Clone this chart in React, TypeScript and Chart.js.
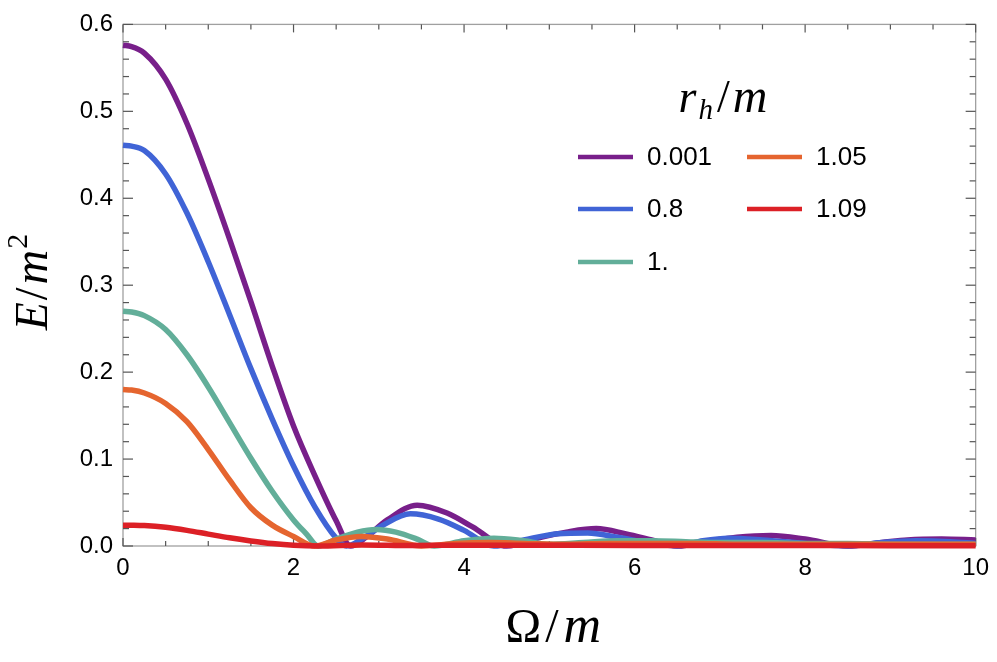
import React, { useEffect, useRef } from "react";
import { Chart, registerables } from "chart.js";
Chart.register(...registerables);

// r_h/m = 0.001
const purpleX = [0, 0.1, 0.25, 0.5, 0.75, 1.0, 1.25, 1.5, 1.75, 2.0, 2.25, 2.5, 2.67, 2.85, 3.1, 3.45, 3.8, 4.1, 4.5, 4.9, 5.2, 5.55, 5.9, 6.2, 6.5, 6.9, 7.2, 7.6, 8.0, 8.5, 8.9, 9.2, 9.6, 10];
const purpleY = [0.576, 0.5745, 0.567, 0.537, 0.486, 0.422, 0.353, 0.281, 0.207, 0.138, 0.081, 0.029, 0.0, 0.010, 0.030, 0.047, 0.038, 0.022, 0.0, 0.010, 0.016, 0.020, 0.014, 0.007, 0.0, 0.006, 0.010, 0.012, 0.008, 0.0, 0.004, 0.007, 0.008, 0.007];
// r_h/m = 0.8
const blueX = [0, 0.1, 0.25, 0.5, 0.75, 1.0, 1.25, 1.5, 1.75, 2.0, 2.25, 2.5, 2.62, 2.8, 3.05, 3.37, 3.7, 4.0, 4.35, 4.7, 5.1, 5.45, 5.8, 6.2, 6.5, 6.8, 7.1, 7.5, 8.0, 8.5, 8.9, 9.3, 9.7, 10];
const blueY = [0.461, 0.460, 0.455, 0.428, 0.383, 0.327, 0.266, 0.204, 0.146, 0.092, 0.045, 0.009, 0.0, 0.008, 0.024, 0.037, 0.031, 0.018, 0.0, 0.007, 0.014, 0.015, 0.010, 0.003, 0.0, 0.006, 0.009, 0.007, 0.003, 0.0, 0.004, 0.006, 0.005, 0.003];
// r_h/m = 1.
const greenX = [0, 0.1, 0.25, 0.5, 0.75, 1.0, 1.25, 1.5, 1.75, 2.0, 2.15, 2.29, 2.5, 2.75, 2.97, 3.2, 3.45, 3.65, 4.0, 4.35, 4.7, 5.0, 5.4, 5.8, 6.2, 6.6, 7.0, 7.5, 8.0, 8.5, 9.0, 9.5, 10];
const greenY = [0.270, 0.2692, 0.265, 0.249, 0.220, 0.183, 0.142, 0.101, 0.063, 0.030, 0.014, 0.0, 0.008, 0.016, 0.019, 0.016, 0.008, 0.0, 0.006, 0.009, 0.006, 0.002, 0.004, 0.006, 0.006, 0.005, 0.004, 0.004, 0.003, 0.003, 0.002, 0.002, 0.002];
// r_h/m = 1.05
const orangeX = [0, 0.1, 0.25, 0.5, 0.75, 1.0, 1.25, 1.5, 1.75, 2.0, 2.25, 2.5, 2.8, 3.1, 3.5, 3.9, 4.3, 4.7, 5.2, 5.7, 6.2, 6.7, 7.2, 7.7, 8.2, 8.7, 9.2, 9.7, 10];
const orangeY = [0.180, 0.1794, 0.176, 0.164, 0.143, 0.111, 0.076, 0.044, 0.024, 0.011, 0.0, 0.007, 0.011, 0.008, 0.0, 0.003, 0.004, 0.003, 0.002, 0.003, 0.003, 0.003, 0.002, 0.002, 0.002, 0.002, 0.002, 0.002, 0.002];
// r_h/m = 1.09
const redX = [0, 0.1, 0.25, 0.5, 0.75, 1.0, 1.25, 1.5, 1.75, 2.0, 2.3, 2.8, 3.4, 4, 5, 6, 7, 8, 9, 10];
const redY = [0.024, 0.0239, 0.0235, 0.0215, 0.018, 0.0137, 0.0094, 0.0058, 0.0028, 0.0008, 0.0, 0.0012, 0.0005, 0.001, 0.0008, 0.0006, 0.0005, 0.0005, 0.0004, 0.0004];

const seriesLabels = ["0.001", "0.8", "1.", "1.05", "1.09"];
const seriesColors = ["#781f8a", "#4064d6", "#62ae99", "#e5652f", "#dc2026"];
const seriesX = [purpleX, blueX, greenX, orangeX, redX];
const seriesY = [purpleY, blueY, greenY, orangeY, redY];

const X_MIN = 0, X_MAX = 10, X_STEP = 2, X_MINOR = 0.5;
const Y_MIN = 0, Y_MAX = 0.6, Y_STEP = 0.1, Y_MINOR = 0.02;

type Piece = { t: string; italic?: boolean; size: number; dy?: number; gap?: number };

function drawPieces(ctx: CanvasRenderingContext2D, pieces: Piece[], cx: number, baseline: number) {
  const fam = '"Liberation Serif", "DejaVu Serif", serif';
  const font = (p: Piece) => `${p.italic ? "italic " : ""}${p.size}px ${fam}`;
  let total = 0;
  const widths = pieces.map((p) => {
    ctx.font = font(p);
    const w = ctx.measureText(p.t).width + (p.gap || 0);
    total += w;
    return w;
  });
  let x = cx - total / 2;
  ctx.textBaseline = "alphabetic";
  ctx.textAlign = "left";
  pieces.forEach((p, i) => {
    ctx.font = font(p);
    ctx.fillText(p.t, x, baseline + (p.dy || 0));
    x += widths[i];
  });
}

const decorPlugin = {
  id: "decor",
  beforeDatasetsDraw(chart: any) {
    const { ctx, chartArea: a, scales } = chart;
    const xs = scales.x, ys = scales.y;
    ctx.save();
    ctx.strokeStyle = "#a0a0a0";
    ctx.lineWidth = 1.3;
    ctx.strokeRect(a.left, a.top, a.right - a.left, a.bottom - a.top);
    ctx.strokeStyle = "#555555";
    ctx.lineWidth = 1.2;
    const seg = (x1: number, y1: number, x2: number, y2: number) => {
      ctx.beginPath();
      ctx.moveTo(x1, y1);
      ctx.lineTo(x2, y2);
      ctx.stroke();
    };
    const nx = Math.round((X_MAX - X_MIN) / X_MINOR);
    const perX = Math.round(X_STEP / X_MINOR);
    for (let i = 0; i <= nx; i++) {
      const px = xs.getPixelForValue(X_MIN + i * X_MINOR);
      const L = i % perX === 0 ? 8 : 5;
      seg(px, a.bottom, px, a.bottom - L);
      seg(px, a.top, px, a.top + L);
    }
    const ny = Math.round((Y_MAX - Y_MIN) / Y_MINOR);
    const perY = Math.round(Y_STEP / Y_MINOR);
    for (let i = 0; i <= ny; i++) {
      const py = ys.getPixelForValue(Y_MIN + i * Y_MINOR);
      const L = i % perY === 0 ? 10 : 6;
      seg(a.left, py, a.left + L, py);
      seg(a.right, py, a.right - L, py);
    }
    ctx.restore();
  },
  afterDraw(chart: any) {
    const { ctx, chartArea: a } = chart;
    ctx.save();
    ctx.fillStyle = "#000";
    // x title
    drawPieces(ctx, [
      { t: "Ω", size: 48, gap: 4 },
      { t: "/", size: 48, gap: 5 },
      { t: "m", italic: true, size: 52 },
    ], (a.left + a.right) / 2 + 4, 642);
    // y title (rotated)
    ctx.save();
    ctx.translate(47, 282);
    ctx.rotate(-Math.PI / 2);
    drawPieces(ctx, [
      { t: "E", italic: true, size: 46, gap: 2 },
      { t: "/", size: 46, gap: 3 },
      { t: "m", italic: true, size: 48, gap: 1 },
      { t: "2", size: 30, dy: -20 },
    ], 0, 0);
    ctx.restore();
    // legend title
    drawPieces(ctx, [
      { t: "r", italic: true, size: 46, gap: 2 },
      { t: "h", italic: true, size: 29, dy: 7, gap: 4 },
      { t: "/", size: 46, gap: 3 },
      { t: "m", italic: true, size: 48 },
    ], 723, 112);
    // legend entries
    const ds = chart.data.datasets;
    const colX = [578, 747];
    const rowY = [157, 209, 262];
    ctx.font = '26px "Liberation Sans", Arial, sans-serif';
    ctx.textBaseline = "middle";
    ctx.textAlign = "left";
    ds.forEach((d: any, i: number) => {
      const col = i < 3 ? 0 : 1;
      const row = i < 3 ? i : i - 3;
      const lx = colX[col], ly = rowY[row];
      ctx.strokeStyle = d.borderColor;
      ctx.lineWidth = 4.5;
      ctx.beginPath();
      ctx.moveTo(lx, ly);
      ctx.lineTo(lx + 55, ly);
      ctx.stroke();
      ctx.fillStyle = "#000";
      ctx.fillText(d.label, lx + 69, ly + 1);
    });
    ctx.restore();
  },
};

export default function App() {
  const ref = useRef<HTMLCanvasElement | null>(null);
  useEffect(() => {
    if (!ref.current) return;
    const datasets = seriesLabels.map((label, i) => ({
      label,
      data: seriesX[i].map((x, j) => ({ x, y: seriesY[i][j] })),
      borderColor: seriesColors[i],
      backgroundColor: seriesColors[i],
      borderWidth: 5.5,
      pointRadius: 0,
      cubicInterpolationMode: "monotone" as const,
      clip: false as const,
      order: seriesLabels.length - i,
    }));
    const tickFont = { family: '"Liberation Sans", Arial, sans-serif', size: 24 };
    const chart = new Chart(ref.current, {
      type: "line",
      data: { datasets },
      options: {
        animation: false,
        responsive: false,
        devicePixelRatio: 1,
        layout: { padding: { top: 14, right: 13, left: 0, bottom: 0 } },
        plugins: { legend: { display: false }, tooltip: { enabled: false } },
        scales: {
          x: {
            type: "linear",
            min: X_MIN,
            max: X_MAX,
            grid: { display: false, drawTicks: false },
            border: { display: false },
            ticks: {
              stepSize: X_STEP,
              font: tickFont,
              color: "#000",
              padding: 8,
              maxRotation: 0,
              callback: (v: any) => String(v),
            },
            afterFit: (s: any) => { s.height = 116; },
          },
          y: {
            type: "linear",
            min: Y_MIN,
            max: Y_MAX,
            grid: { display: false, drawTicks: false },
            border: { display: false },
            ticks: {
              stepSize: Y_STEP,
              font: tickFont,
              color: "#000",
              padding: 10,
              callback: (v: any) => Number(v).toFixed(1),
            },
            afterFit: (s: any) => { s.width = 123; },
          },
        },
      },
      plugins: [decorPlugin],
    });
    return () => chart.destroy();
  }, []);
  return (
    <div style={{ position: "absolute", left: 0, top: 0, width: 997, height: 662, background: "#fff" }}>
      <canvas ref={ref} width={997} height={662} style={{ display: "block" }} />
    </div>
  );
}
